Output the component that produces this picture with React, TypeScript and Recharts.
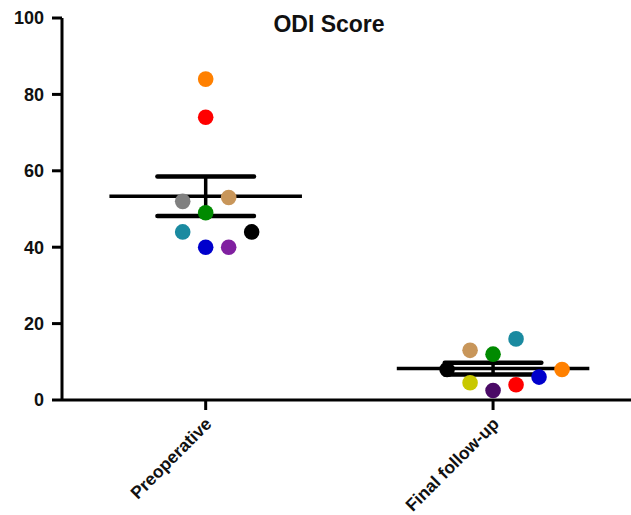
import { ScatterChart, Scatter, XAxis, YAxis, ReferenceLine, Cell } from 'recharts';

const groups = ['Preoperative', 'Final follow-up'];
const groupX = [0.5, 1.5];

// preoperative ODI
const preValues = [84, 74, 52, 53, 49, 44, 44, 40, 40];
const preColors = ['#ff8000', '#ff0000', '#808080', '#c8965a', '#008a00', '#1a8aa0', '#000000', '#0000cc', '#8020a0'];
const preCols = [0, 0, -1, 1, 0, -1, 2, 0, 1];

// final follow-up ODI
const postValues = [13, 12, 16, 8, 6, 4, 2.5, 4.5, 8];
const postColors = ['#c8965a', '#008a00', '#1a8aa0', '#ff8000', '#0000cc', '#ff0000', '#4a0a66', '#c8c800', '#000000'];
const postCols = [-1, 0, 1, 3, 2, 1, 0, -1, -2];

const yTicks = [0, 20, 40, 60, 80, 100];

const COL_STEP = 0.08;
const MEAN_HALF = 0.335;
const SEM_HALF = 0.168;

function mean(v: number[]) {
  return v.reduce((a, b) => a + b, 0) / v.length;
}
function sem(v: number[]) {
  const m = mean(v);
  const sd = Math.sqrt(v.reduce((a, b) => a + (b - m) * (b - m), 0) / (v.length - 1));
  return sd / Math.sqrt(v.length);
}

const series = [
  { values: preValues, colors: preColors, cols: preCols },
  { values: postValues, colors: postColors, cols: postCols },
].map((s, gi) => ({
  points: s.values.map((y, i) => ({ x: groupX[gi] + s.cols[i] * COL_STEP, y, color: s.colors[i] })),
  mean: mean(s.values),
  sem: sem(s.values),
  x: groupX[gi],
}));

const font = '"Liberation Sans", Arial, sans-serif';

function XTick(props: any) {
  const { x, y, payload } = props;
  const i = groupX.indexOf(payload.value);
  const tx = x + 7;
  const ty = y + 13;
  return (
    <text x={tx} y={ty} transform={`rotate(-45, ${tx}, ${ty})`} textAnchor="end" fontFamily={font} fontWeight="bold" fontSize={17.5} fill="#111">
      {groups[i]}
    </text>
  );
}

export default function App() {
  return (
    <div style={{ position: 'absolute', left: 0, top: 0, background: '#fff' }}>
      <ScatterChart width={631} height={515} margin={{ top: 18, right: 0, bottom: 0, left: 0 }}>
        <text x={329} y={32} textAnchor="middle" fontFamily={font} fontWeight="bold" fontSize={23} fill="#111">
          ODI Score
        </text>
        <XAxis
          type="number"
          dataKey="x"
          domain={[0, 1.98]}
          ticks={groupX}
          height={115}
          tickSize={10}
          stroke="#000"
          strokeWidth={3}
          tick={<XTick />}
          tickLine={{ stroke: '#000', strokeWidth: 3 }}
          axisLine={{ stroke: '#000', strokeWidth: 3 }}
        />
        <YAxis
          type="number"
          dataKey="y"
          domain={[0, 100]}
          ticks={yTicks}
          width={62}
          tickSize={10}
          tickMargin={8}
          tick={{ fontFamily: font, fontWeight: 'bold', fontSize: 18, fill: '#111' }}
          tickLine={{ stroke: '#000', strokeWidth: 3 }}
          axisLine={{ stroke: '#000', strokeWidth: 3 }}
        />
        {series.map((s, gi) => (
          <Scatter key={'pts' + gi} data={s.points} isAnimationActive={false} shape={(p: any) => <circle cx={p.cx} cy={p.cy} r={7.8} fill={p.payload.color} />}>
            {s.points.map((pt, i) => (
              <Cell key={i} fill={pt.color} />
            ))}
          </Scatter>
        ))}
        {series.map((s, gi) => [
          <ReferenceLine key={'m' + gi} segment={[{ x: s.x - MEAN_HALF, y: s.mean }, { x: s.x + MEAN_HALF, y: s.mean }]} stroke="#000" strokeWidth={3.5} />,
          <ReferenceLine key={'v' + gi} segment={[{ x: s.x, y: s.mean - s.sem }, { x: s.x, y: s.mean + s.sem }]} stroke="#000" strokeWidth={3.5} />,
          <ReferenceLine key={'h' + gi} segment={[{ x: s.x - SEM_HALF, y: s.mean + s.sem }, { x: s.x + SEM_HALF, y: s.mean + s.sem }]} stroke="#000" strokeWidth={4.5} strokeLinecap="round" />,
          <ReferenceLine key={'l' + gi} segment={[{ x: s.x - SEM_HALF, y: s.mean - s.sem }, { x: s.x + SEM_HALF, y: s.mean - s.sem }]} stroke="#000" strokeWidth={4.5} strokeLinecap="round" />,
        ])}
      </ScatterChart>
    </div>
  );
}
